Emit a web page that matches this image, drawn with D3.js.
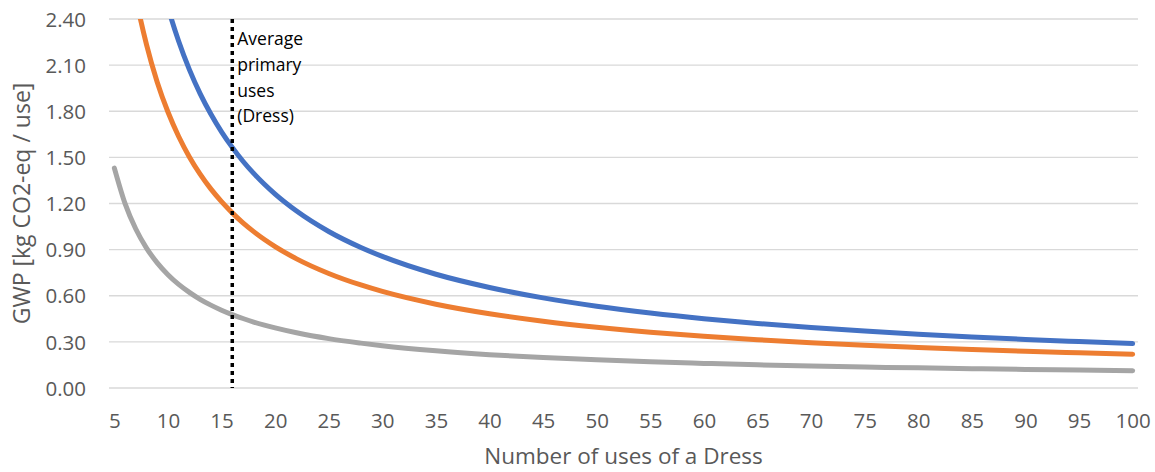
<!DOCTYPE html>
<html>
<head>
<meta charset="utf-8">
<script src="https://cdn.jsdelivr.net/npm/d3@7"></script>
<style>
  html, body { margin: 0; padding: 0; background: #fff; }
  svg { display: block; font-family: "Open Sans", sans-serif; }
</style>
</head>
<body>
<svg id="chart" width="1155" height="472"></svg>
<script>
// Number of uses of a dress (category positions)
const uses = [5, 6, 7, 8, 9, 10, 11, 12, 13, 14, 15, 16, 17, 18, 19, 20, 22, 25, 28, 30,
              35, 40, 45, 50, 55, 60, 65, 70, 75, 80, 85, 90, 95, 100];

// GWP per use [kg CO2-eq / use] for each scenario
const seriesBlue = [4.906, 4.096, 3.517, 3.084, 2.746, 2.476, 2.255, 2.071, 1.915, 1.782, 1.666, 1.565,
                    1.475, 1.396, 1.325, 1.261, 1.151, 1.018, 0.914, 0.856, 0.740, 0.654, 0.586, 0.532,
                    0.488, 0.451, 0.420, 0.393, 0.370, 0.350, 0.332, 0.316, 0.302, 0.289];
const seriesOrange = [3.545, 2.962, 2.545, 2.233, 1.989, 1.795, 1.636, 1.503, 1.391, 1.295, 1.212, 1.139,
                      1.074, 1.017, 0.966, 0.920, 0.840, 0.745, 0.670, 0.628, 0.545, 0.483, 0.434, 0.395,
                      0.363, 0.337, 0.314, 0.295, 0.278, 0.264, 0.251, 0.239, 0.229, 0.220];
const seriesGray = [1.430, 1.199, 1.034, 0.910, 0.814, 0.737, 0.674, 0.622, 0.577, 0.539, 0.506, 0.477,
                    0.452, 0.429, 0.409, 0.391, 0.359, 0.321, 0.292, 0.275, 0.242, 0.217, 0.198, 0.183,
                    0.170, 0.160, 0.151, 0.143, 0.136, 0.131, 0.126, 0.121, 0.117, 0.113];

const xTicks = [5, 10, 15, 20, 25, 30, 35, 40, 45, 50, 55, 60, 65, 70, 75, 80, 85, 90, 95, 100];
const yTicks = [0, 0.3, 0.6, 0.9, 1.2, 1.5, 1.8, 2.1, 2.4];
const averageUses = 16;
const markerLines = ["Average", "primary", "uses", "(Dress)"];

const series = [
  { values: seriesGray,   color: "#A5A5A5" },
  { values: seriesOrange, color: "#ED7D31" },
  { values: seriesBlue,   color: "#4472C4" }
];

const plot = { left: 109, right: 1138, top: 19, bottom: 388 };
const svg = d3.select("#chart");

// categories 5..100 sit in the middle of equal-width slots
const x = d3.scaleLinear().domain([4.5, 100.5]).range([plot.left, plot.right]);
const y = d3.scaleLinear().domain([0, 2.4]).range([plot.bottom, plot.top]);

// horizontal gridlines
svg.append("g")
  .selectAll("line")
  .data(yTicks)
  .join("line")
  .attr("x1", plot.left).attr("x2", plot.right)
  .attr("y1", d => y(d)).attr("y2", d => y(d))
  .attr("stroke", "#D9D9D9").attr("stroke-width", 1.3);

// y axis labels
const yAxis = d3.axisLeft(y).tickValues(yTicks).tickFormat(d3.format(".2f")).tickSize(0).tickPadding(0);
svg.append("g")
  .attr("transform", `translate(86,0)`)
  .call(yAxis)
  .call(g => g.select(".domain").remove())
  .selectAll("text")
  .attr("font-family", "Open Sans, sans-serif")
  .attr("font-size", 20.5)
  .attr("fill", "#595959")
  .attr("dy", "0.35em");

// x axis labels
const xAxis = d3.axisBottom(x).tickValues(xTicks).tickFormat(d3.format("d")).tickSize(0).tickPadding(0);
svg.append("g")
  .attr("transform", `translate(0,${plot.bottom})`)
  .call(xAxis)
  .call(g => g.select(".domain").remove())
  .selectAll("text")
  .attr("font-family", "Open Sans, sans-serif")
  .attr("font-size", 20.5)
  .attr("fill", "#595959")
  .attr("y", 40)
  .attr("dy", 0);

// clip the curves to the plot area
svg.append("clipPath").attr("id", "plotClip")
  .append("rect")
  .attr("x", plot.left - 10).attr("y", plot.top)
  .attr("width", plot.right - plot.left + 20).attr("height", plot.bottom - plot.top + 10);

const line = d3.line()
  .x((d, i) => x(uses[i]))
  .y(d => y(d))
  .curve(d3.curveMonotoneX);

svg.append("g")
  .attr("clip-path", "url(#plotClip)")
  .selectAll("path")
  .data(series)
  .join("path")
  .attr("d", d => line(d.values))
  .attr("fill", "none")
  .attr("stroke", d => d.color)
  .attr("stroke-width", 5)
  .attr("stroke-linecap", "round")
  .attr("stroke-linejoin", "round");

// average primary uses marker
svg.append("line")
  .attr("x1", x(averageUses)).attr("x2", x(averageUses))
  .attr("y1", y(2.4)).attr("y2", y(0))
  .attr("stroke", "#000").attr("stroke-width", 3.5)
  .attr("stroke-dasharray", "4,4");

svg.append("text")
  .attr("x", x(averageUses) + 5)
  .attr("y", 45)
  .attr("font-family", "Open Sans, sans-serif")
  .attr("font-size", 17.5)
  .attr("fill", "#000")
  .selectAll("tspan")
  .data(markerLines)
  .join("tspan")
  .attr("x", x(averageUses) + 5)
  .attr("dy", (d, i) => i === 0 ? 0 : 25.8)
  .text(d => d);

// axis titles
svg.append("text")
  .attr("transform", `translate(30,${(plot.top + plot.bottom) / 2}) rotate(-90)`)
  .attr("text-anchor", "middle")
  .attr("font-family", "Open Sans, sans-serif")
  .attr("font-size", 23)
  .attr("fill", "#595959")
  .text("GWP [kg CO2-eq / use]");

svg.append("text")
  .attr("x", (plot.left + plot.right) / 2)
  .attr("y", 464)
  .attr("text-anchor", "middle")
  .attr("font-family", "Open Sans, sans-serif")
  .attr("font-size", 22.5)
  .attr("fill", "#595959")
  .text("Number of uses of a Dress");
</script>
</body>
</html>
